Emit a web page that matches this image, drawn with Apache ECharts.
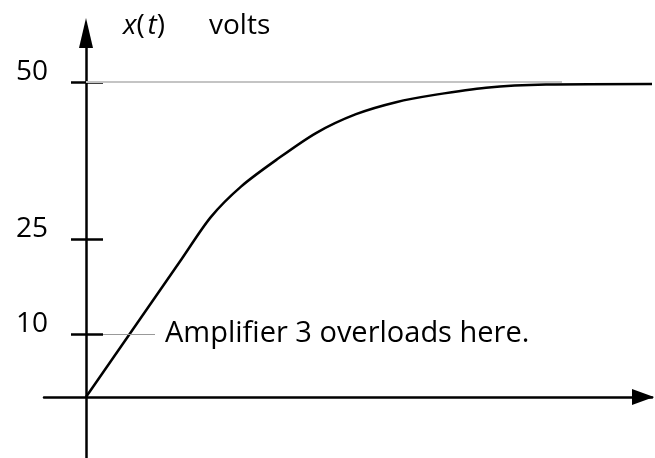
<!DOCTYPE html>
<html>
<head>
<meta charset="utf-8">
<title>x(t) volts</title>
<script src="https://cdn.jsdelivr.net/npm/echarts@6/dist/echarts.min.js"></script>
<style>
    html, body { margin: 0; padding: 0; background: #fff; }
    #chart { width: 655px; height: 458px; }
</style>
</head>
<body>
<div id="chart"></div>
<script>
// time (arbitrary units) and x(t) in volts
var tValues = [0, 9.6, 12.5, 15.5, 19, 23, 27, 31, 35, 40, 46, 56.6];
var voltValues = [0, 22.0, 28.6, 33.4, 37.6, 41.9, 44.9, 46.8, 48.0, 49.1, 49.6, 49.7];
var yTickValues = [10, 25, 50];
var finalLevel = 50;
var finalLineEnd = 47.6;
var noteLevel = 10;
var noteSpan = [1.7, 6.9];
var noteText = 'Amplifier 3 overloads here.';

var FONT = '"Open Sans", "DejaVu Sans", sans-serif';

var curve = [];
for (var i = 0; i < tValues.length; i++) {
    curve.push([tValues[i], voltValues[i]]);
}

var myChart = echarts.init(document.getElementById('chart'));
var yRange = { min: -9.68, max: 57.78 };

option = {
    animation: false,
    backgroundColor: '#fff',
    title: [
        {
            text: '{i|x}(\u200a{i|t})',
            left: 118,
            top: 7,
            textStyle: {
                fontFamily: FONT,
                fontSize: 28,
                fontWeight: 'normal',
                color: '#000',
                rich: {
                    i: { fontFamily: FONT, fontSize: 28, fontStyle: 'italic', color: '#000' }
                }
            }
        },
        {
            text: 'volts',
            left: 204,
            top: 7,
            textStyle: { fontFamily: FONT, fontSize: 28, fontWeight: 'normal', color: '#000' }
        }
    ],
    grid: { left: 44, right: 3, top: 33, bottom: 0, outerBoundsMode: 'none', containLabel: false },
    xAxis: {
        type: 'value',
        min: -4.2,
        max: 56.6,
        axisLine: {
            onZero: true,
            symbol: ['none', 'triangle'],
            symbolSize: [16, 22],
            symbolOffset: [0, -9],
            lineStyle: { color: '#000', width: 2.5 }
        },
        axisTick: { show: false },
        axisLabel: { show: false },
        splitLine: { show: false }
    },
    yAxis: [
        {
            type: 'value',
            position: 'left',
            min: yRange.min,
            max: yRange.max,
            axisLine: {
                onZero: true,
                onZeroAxisIndex: 0,
                symbol: ['none', 'triangle'],
                symbolSize: [14, 30],
                lineStyle: { color: '#000', width: 2.5 }
            },
            axisTick: {
                show: true,
                customValues: yTickValues,
                length: 15,
                lineStyle: { color: '#000', width: 2.5 }
            },
            axisLabel: {
                show: true,
                customValues: yTickValues,
                margin: -4,
                verticalAlign: 'bottom',
                lineHeight: 20,
                fontFamily: FONT,
                fontSize: 28,
                color: '#000'
            },
            splitLine: { show: false }
        },
        {
            type: 'value',
            position: 'left',
            min: yRange.min,
            max: yRange.max,
            axisLine: { show: false, onZero: true, onZeroAxisIndex: 0 },
            axisTick: {
                show: true,
                inside: true,
                customValues: yTickValues,
                length: 17,
                lineStyle: { color: '#000', width: 2.5 }
            },
            axisLabel: { show: false },
            splitLine: { show: false }
        }
    ],
    series: [
        {
            type: 'line',
            data: curve,
            smooth: 0.3,
            symbol: 'none',
            clip: false,
            lineStyle: { color: '#000', width: 2.5 },
            z: 3,
            markLine: {
                silent: true,
                symbol: ['none', 'none'],
                animation: false,
                data: [
                    [
                        { coord: [0, finalLevel], lineStyle: { color: '#c4c4c4', width: 2, type: 'solid' }, label: { show: false } },
                        { coord: [finalLineEnd, finalLevel] }
                    ],
                    [
                        {
                            coord: [noteSpan[0], noteLevel],
                            lineStyle: { color: '#999', width: 1, type: 'solid' },
                            label: {
                                show: true,
                                position: 'end',
                                distance: 10,
                                formatter: noteText,
                                fontFamily: FONT,
                                fontSize: 29,
                                color: '#000'
                            }
                        },
                        { coord: [noteSpan[1], noteLevel] }
                    ]
                ]
            }
        }
    ]
};
myChart.setOption(option, true);
</script>
</body>
</html>
